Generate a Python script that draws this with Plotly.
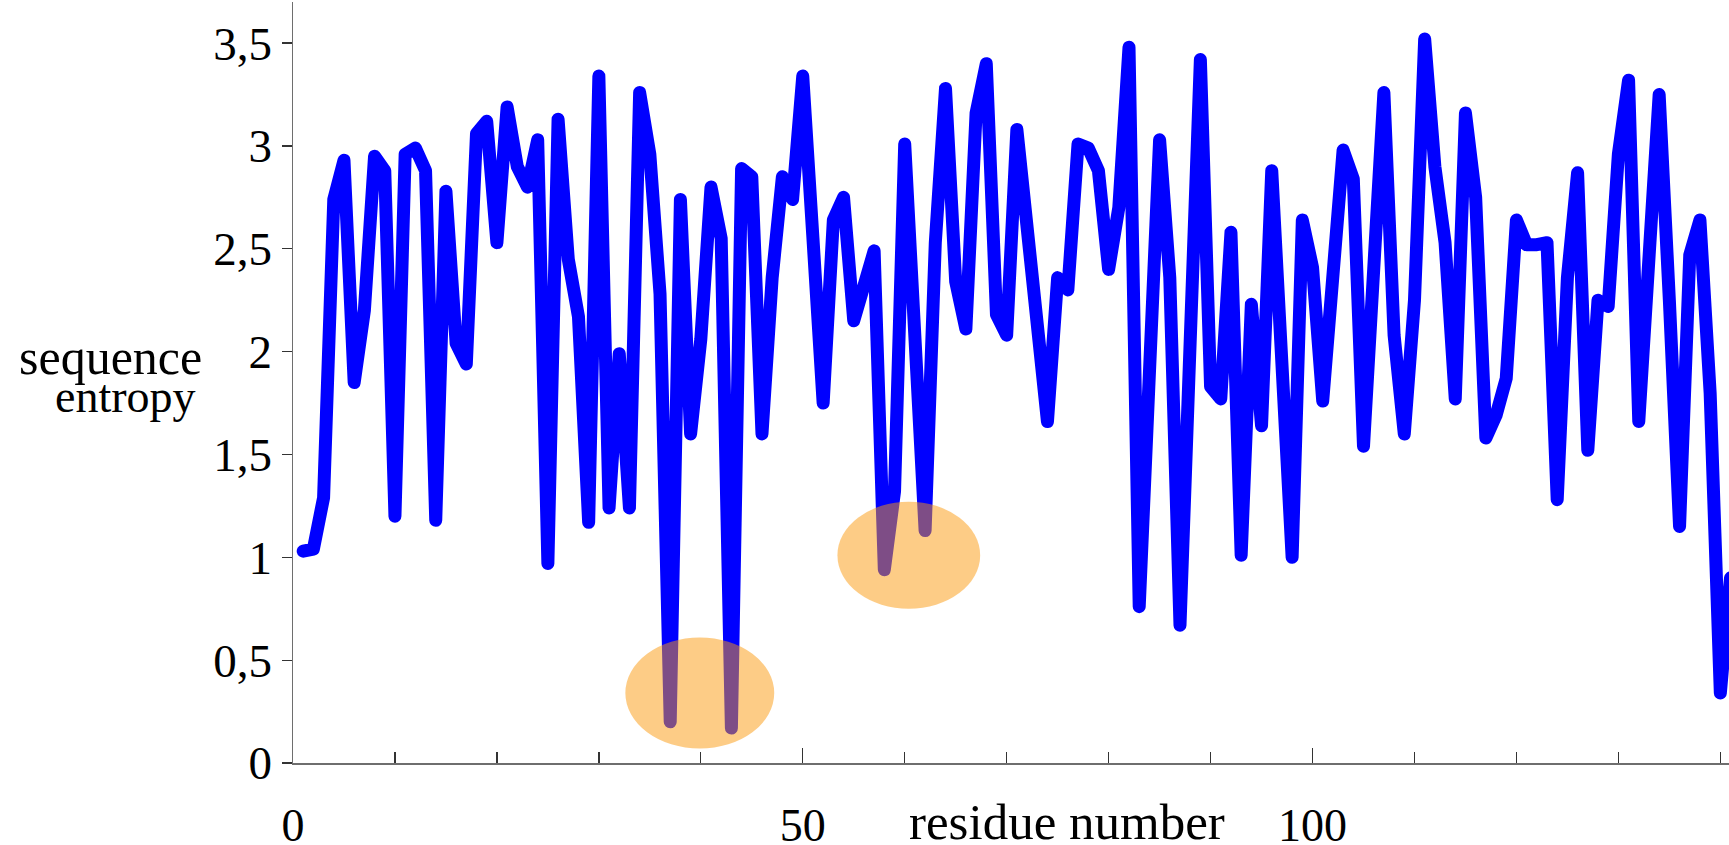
import plotly.graph_objects as go

# ---- data -------------------------------------------------------------
residue = list(range(1, 142))
entropy = [
    1.03, 1.04, 1.29, 2.74, 2.93, 1.85, 2.20, 2.95, 2.88, 1.20,
    2.96, 2.99, 2.88, 1.18, 2.78, 2.04, 1.94, 3.06, 3.12, 2.53,
    3.19, 2.90, 2.80, 3.03, 0.97, 3.13, 2.45, 2.17, 1.17, 3.34,
    1.24, 1.99, 1.24, 3.26, 2.96, 2.28, 0.20, 2.74, 1.60, 2.06,
    2.80, 2.55, 0.17, 2.89, 2.85, 1.60, 2.36, 2.85, 2.74, 3.34,
    2.55, 1.75, 2.64, 2.75, 2.15, 2.32, 2.49, 0.94, 1.32, 3.01,
    2.10, 1.13, 2.53, 3.28, 2.34, 2.11, 3.16, 3.40, 2.18, 2.08,
    3.08, 2.65, 2.22, 1.66, 2.36, 2.30, 3.01, 2.99, 2.88, 2.40,
    2.70, 3.48, 0.76, 1.90, 3.03, 2.36, 0.67, 2.05, 3.42, 1.83,
    1.77, 2.58, 1.01, 2.23, 1.64, 2.88, 1.95, 1.00, 2.64, 2.41,
    1.76, 2.30, 2.98, 2.84, 1.54, 2.40, 3.26, 2.08, 1.60, 2.25,
    3.52, 2.90, 2.53, 1.77, 3.16, 2.75, 1.58, 1.69, 1.87, 2.64,
    2.52, 2.52, 2.53, 1.28, 2.36, 2.87, 1.52, 2.25, 2.22, 2.96,
    3.32, 1.66, 2.46, 3.25, 2.25, 1.15, 2.47, 2.64, 1.80, 0.34,
    0.90,
]

x_major_ticks = [0, 50, 100]
x_major_labels = ["0", "50", "100"]
x_minor_ticks = [10, 20, 30, 40, 60, 70, 80, 90, 110, 120, 130, 140]
y_ticks = [0, 0.5, 1, 1.5, 2, 2.5, 3, 3.5]
y_labels = ["0", "0,5", "1", "1,5", "2", "2,5", "3", "3,5"]

# highlighted regions (x0, x1, y0, y1) in data units
highlights = [
    (32.6, 47.2, 0.07, 0.61),
    (53.4, 67.4, 0.75, 1.27),
]

FONT = "Liberation Serif"
AXIS_COLOR = "#6e6e6e"

fig = go.Figure()
fig.add_trace(go.Scatter(
    x=residue, y=entropy, mode="lines",
    line=dict(color="#0000ff", width=13),
    hoverinfo="skip", showlegend=False,
))

for x0, x1, y0, y1 in highlights:
    fig.add_shape(type="circle", xref="x", yref="y",
                  x0=x0, x1=x1, y0=y0, y1=y1,
                  fillcolor="rgba(252,153,13,0.5)", line=dict(width=0),
                  layer="above")

fig.update_layout(
    width=1729, height=845,
    margin=dict(l=293, r=0, t=2, b=82, autoexpand=False),
    paper_bgcolor="white", plot_bgcolor="white",
    font=dict(family=FONT, size=46, color="black"),
    showlegend=False,
)

fig.update_xaxes(
    range=[0, 140.85], showgrid=False, zeroline=False, automargin=False,
    showline=True, linecolor=AXIS_COLOR, linewidth=2,
    tickmode="array", tickvals=x_major_ticks, ticktext=x_major_labels,
    ticks="inside", ticklen=15, tickwidth=1.3, tickcolor="#333333",
    ticklabelstandoff=21,
    tickfont=dict(family=FONT, size=46),
    minor=dict(tickmode="array", tickvals=x_minor_ticks, ticks="inside",
               ticklen=11, tickwidth=1.3, tickcolor="#333333"),
)

fig.update_yaxes(
    range=[0, 3.70], showgrid=False, zeroline=False, automargin=False,
    showline=True, linecolor=AXIS_COLOR, linewidth=1.5,
    tickmode="array", tickvals=y_ticks, ticktext=y_labels,
    ticks="outside", ticklen=10, tickwidth=1.3, tickcolor="#333333",
    tickfont=dict(family=FONT, size=47),
)

fig.add_annotation(text="residue number", xref="x", yref="paper",
                   x=75.9, y=-0.078, xanchor="center", yanchor="middle",
                   showarrow=False, font=dict(family=FONT, size=51))
fig.add_annotation(text="sequence", xref="paper", yref="paper",
                   x=-0.1274, y=0.533, xanchor="center", yanchor="middle",
                   showarrow=False, font=dict(family=FONT, size=50))
fig.add_annotation(text="entropy", xref="paper", yref="paper",
                   x=-0.1165, y=0.482, xanchor="center", yanchor="middle",
                   showarrow=False, font=dict(family=FONT, size=46))

post = ("document.body.style.margin='0';"
        "document.body.style.padding='0';"
        "document.querySelectorAll('.scatterlayer .js-line').forEach("
        "function(p){p.style.strokeLinejoin='round';p.style.strokeLinecap='round';});")
fig.write_html("out.html", post_script=post,
               config={"displayModeBar": False, "staticPlot": True})
